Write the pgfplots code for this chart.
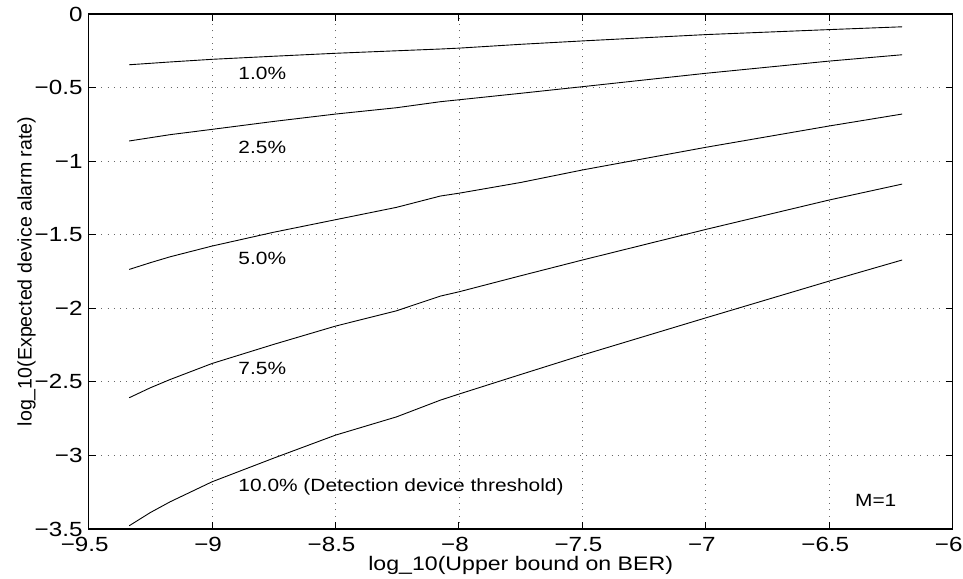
\documentclass[border=0pt]{standalone}
\usepackage{fontspec}
\setmainfont[FakeStretch=1.18]{Liberation Sans}
\newfontfamily\ylfont{Liberation Sans}
\usepackage{pgfplots}
\pgfplotsset{compat=1.18}

\pgfplotstableread{
x y
-9.336 -0.345
-9.17 -0.326
-9.0 -0.308
-8.75 -0.287
-8.5 -0.267
-8.253 -0.250
-8.075 -0.238
-8.0 -0.232
-7.75 -0.206
-7.5 -0.183
-7.0 -0.140
-6.5 -0.106
-6.205 -0.087
}\curveA
\pgfplotstableread{
x y
-9.336 -0.863
-9.17 -0.820
-9.0 -0.784
-8.75 -0.730
-8.5 -0.680
-8.253 -0.637
-8.075 -0.596
-8.0 -0.583
-7.75 -0.539
-7.5 -0.494
-7.0 -0.403
-6.5 -0.320
-6.205 -0.277
}\curveB
\pgfplotstableread{
x y
-9.336 -1.736
-9.25 -1.690
-9.17 -1.650
-9.0 -1.577
-8.75 -1.483
-8.5 -1.398
-8.253 -1.314
-8.075 -1.237
-8.0 -1.218
-7.75 -1.145
-7.5 -1.060
-7.0 -0.906
-6.5 -0.761
-6.205 -0.680
}\curveC
\pgfplotstableread{
x y
-9.336 -2.608
-9.25 -2.540
-9.17 -2.484
-9.0 -2.375
-8.75 -2.245
-8.5 -2.121
-8.253 -2.017
-8.075 -1.917
-8.0 -1.888
-7.75 -1.779
-7.5 -1.672
-7.0 -1.464
-6.5 -1.264
-6.205 -1.156
}\curveD
\pgfplotstableread{
x y
-9.336 -3.478
-9.25 -3.388
-9.17 -3.315
-9.0 -3.179
-8.75 -3.018
-8.5 -2.862
-8.253 -2.738
-8.075 -2.624
-8.0 -2.583
-7.75 -2.450
-7.5 -2.318
-7.0 -2.065
-6.5 -1.815
-6.205 -1.672
}\curveE

\begin{document}
\begin{tikzpicture}
\begin{axis}[
  name=ax,
  scale only axis, width=864bp, height=515bp,
  xmin=-9.5, xmax=-6, ymin=-3.5, ymax=0,
  xtick={-9.5,-9,-8.5,-8,-7.5,-7,-6.5,-6},
  xticklabels={−9.5,−9,−8.5,−8,−7.5,−7,−6.5,−6},
  ytick={-3.5,-3,-2.5,-2,-1.5,-1,-0.5,0},
  yticklabels={−3.5,−3,−2.5,−2,−1.5,−1,−0.5,0},
  tick align=inside, major tick length=7bp,
  axis line style={line width=1.5bp},
  every tick/.style={black, line width=1bp},
  grid=major,
  major grid style={black!60, line width=0.8bp, dash pattern=on 0.8bp off 5.5bp},
  tick label style={font=\fontsize{20.5bp}{23bp}\selectfont},
  xticklabel style={anchor=base, yshift=-22bp, xshift=-4bp, inner sep=0pt},
  yticklabel style={anchor=east, xshift=-6bp, inner sep=0pt},
  xlabel={log\_10(Upper bound on BER)},
  ylabel={\ylfont log\_10(Expected device alarm rate)},
  label style={font=\fontsize{19.6bp}{23bp}\selectfont},
  xlabel style={at={(axis description cs:0.5,-0.07)}, anchor=center, inner sep=0pt},
  ylabel style={at={(axis description cs:-0.072,0.5)}, anchor=center, inner sep=0pt},
]
\addplot[black, line width=0.9bp] table[x=x,y=y] {\curveA};
\addplot[black, line width=0.9bp] table[x=x,y=y] {\curveB};
\addplot[black, line width=0.9bp] table[x=x,y=y] {\curveC};
\addplot[black, line width=0.9bp] table[x=x,y=y] {\curveD};
\addplot[black, line width=0.9bp] table[x=x,y=y] {\curveE};
\begin{scope}[every node/.style={anchor=west, inner sep=0pt, font=\fontsize{17.7bp}{20bp}\selectfont}]
\node at (axis cs:-8.894,-0.403) {1.0\%};
\node at (axis cs:-8.894,-0.906) {2.5\%};
\node at (axis cs:-8.894,-1.661) {5.0\%};
\node at (axis cs:-8.894,-2.409) {7.5\%};
\node at (axis cs:-8.894,-3.213) {10.0\% (Detection device threshold)};
\node at (axis cs:-6.396,-3.309) {M=1};
\end{scope}
\end{axis}
\pgfresetboundingbox
\path[use as bounding box] ([xshift=-88.7bp,yshift=-50bp]ax.south west) rectangle ++(963bp,579bp);
\end{tikzpicture}
\end{document}
